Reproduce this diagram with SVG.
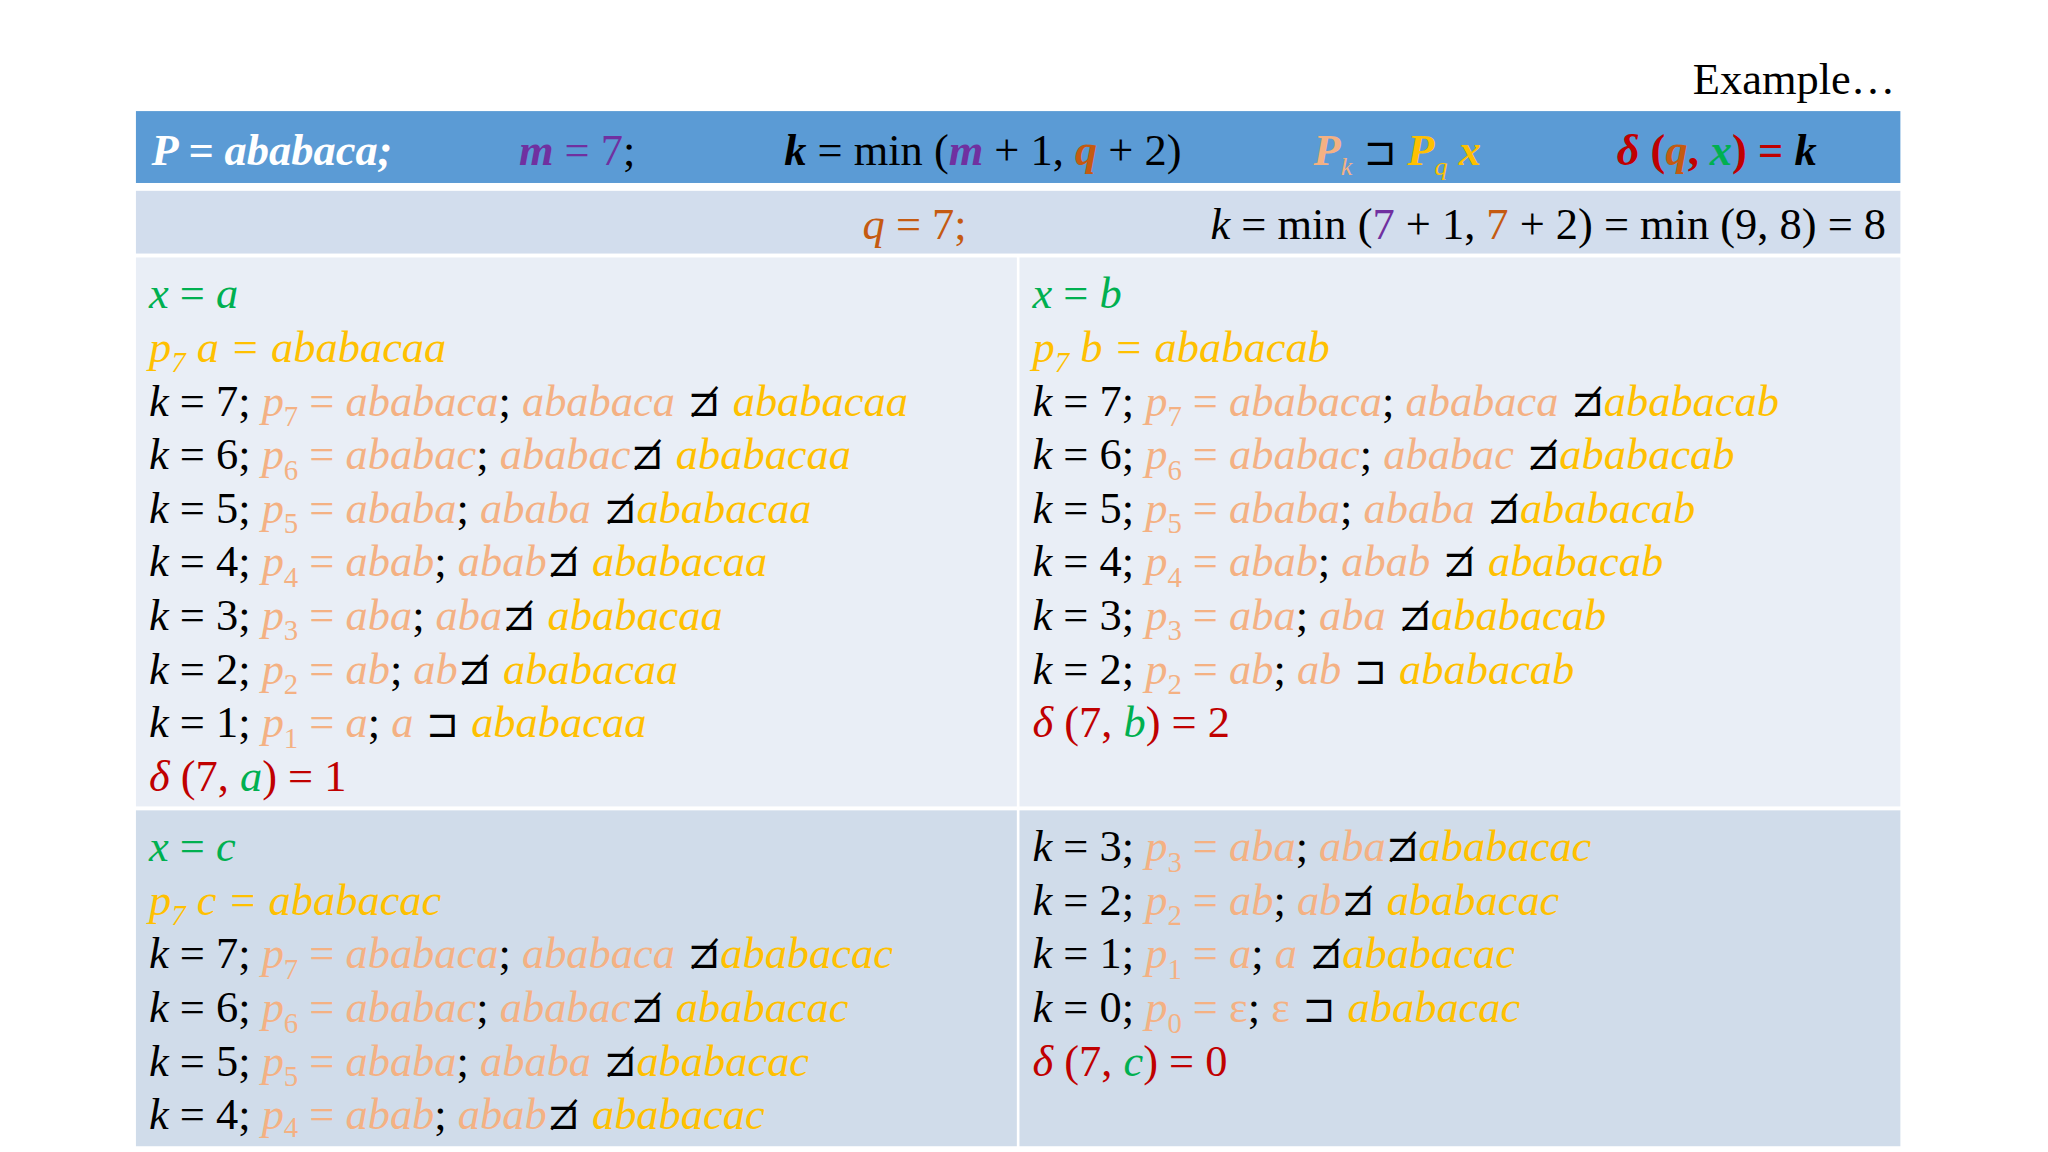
<svg xmlns="http://www.w3.org/2000/svg" width="2048" height="1152" viewBox="0 0 2048 1152">
<style>
.t{font-family:"Liberation Serif","Times New Roman",serif;font-size:34px;fill:#000}
.i{font-style:italic}
.bd{font-weight:bold}
.po{fill:#f4b183}.y{fill:#ffc000}.g{fill:#00b050}.r{fill:#c00000}.pu{fill:#7030a0}.o{fill:#c55a11}.w{fill:#fff}.k{fill:#000}
.s{font-family:"DejaVu Sans",sans-serif;font-size:30px;fill:#000}
</style>
<rect width="2048" height="1152" fill="#fff"/>
<g transform="scale(1.307)">
<g id="title"><text x="1450" y="72" class="t" font-size="50" text-anchor="end">Example…</text></g>
<g id="bg">
<rect x="104" y="85" width="1350" height="55" fill="#5b9bd5"/>
<rect x="104" y="146" width="1350" height="48" fill="#d2dded"/>
<rect x="104" y="197" width="674" height="420" fill="#e9eef6"/>
<rect x="780" y="197" width="674" height="420" fill="#e9eef6"/>
<rect x="104" y="620" width="674" height="257" fill="#d0dcea"/>
<rect x="780" y="620" width="674" height="257" fill="#d0dcea"/>
</g>
<g id="header">
<text x="116" y="126" class="t w i bd">P = ababaca;</text>
<text x="397" y="126" class="t"><tspan class="pu i bd">m</tspan><tspan class="pu"> = 7</tspan>;</text>
<text x="600" y="126" class="t"><tspan class="i bd">k</tspan> = min (<tspan class="pu i bd">m</tspan> + 1, <tspan class="o i bd">q</tspan> + 2)</text>
<text x="1005" y="126" class="t"><tspan class="po i bd">P</tspan><tspan class="po i" font-size="20" dy="8">k</tspan><tspan dy="-8" class="k"> </tspan><tspan class="s" font-size="32">⊐</tspan><tspan class="y i bd">  P</tspan><tspan class="y i" font-size="20" dy="8">q</tspan><tspan class="y i bd" dy="-8"> x</tspan></text>
<text x="1237" y="126" class="t bd"><tspan class="r i">δ</tspan><tspan class="r"> (</tspan><tspan class="o i">q</tspan><tspan class="r">, </tspan><tspan class="g i">x</tspan><tspan class="r">) = </tspan><tspan class="i">k</tspan></text>
</g>
<g id="row2">
<text x="660" y="183" class="t o"><tspan class="i">q</tspan> = 7;</text>
<text x="1443" y="183" class="t" text-anchor="end"><tspan class="i">k</tspan> = min (<tspan class="pu">7</tspan> + 1, <tspan class="o">7</tspan> + 2) = min (9, 8) = 8</text>
</g>
<g id="cellA">
<text x="114" y="236" class="t g"><tspan class="i">x</tspan> = <tspan class="i">a</tspan></text>
<text x="114" y="277" class="t y i">p<tspan font-size="22" dy="8">7</tspan><tspan dy="-8"> a = ababacaa</tspan></text>
<text x="114" y="318" class="t"><tspan class="i">k</tspan> = 7; <tspan class="po i">p</tspan><tspan class="po" font-size="22" dy="8">7</tspan><tspan class="po" dy="-8"> = </tspan><tspan class="po i">ababaca</tspan>; <tspan class="po i">ababaca</tspan><tspan class="s"> ⊐̸ </tspan><tspan class="y i">ababacaa</tspan></text>
<text x="114" y="359" class="t"><tspan class="i">k</tspan> = 6; <tspan class="po i">p</tspan><tspan class="po" font-size="22" dy="8">6</tspan><tspan class="po" dy="-8"> = </tspan><tspan class="po i">ababac</tspan>; <tspan class="po i">ababac</tspan><tspan class="s">⊐̸ </tspan><tspan class="y i">ababacaa</tspan></text>
<text x="114" y="400" class="t"><tspan class="i">k</tspan> = 5; <tspan class="po i">p</tspan><tspan class="po" font-size="22" dy="8">5</tspan><tspan class="po" dy="-8"> = </tspan><tspan class="po i">ababa</tspan>; <tspan class="po i">ababa</tspan><tspan class="s"> ⊐̸</tspan><tspan class="y i">ababacaa</tspan></text>
<text x="114" y="441" class="t"><tspan class="i">k</tspan> = 4; <tspan class="po i">p</tspan><tspan class="po" font-size="22" dy="8">4</tspan><tspan class="po" dy="-8"> = </tspan><tspan class="po i">abab</tspan>; <tspan class="po i">abab</tspan><tspan class="s">⊐̸ </tspan><tspan class="y i">ababacaa</tspan></text>
<text x="114" y="482" class="t"><tspan class="i">k</tspan> = 3; <tspan class="po i">p</tspan><tspan class="po" font-size="22" dy="8">3</tspan><tspan class="po" dy="-8"> = </tspan><tspan class="po i">aba</tspan>; <tspan class="po i">aba</tspan><tspan class="s">⊐̸ </tspan><tspan class="y i">ababacaa</tspan></text>
<text x="114" y="523" class="t"><tspan class="i">k</tspan> = 2; <tspan class="po i">p</tspan><tspan class="po" font-size="22" dy="8">2</tspan><tspan class="po" dy="-8"> = </tspan><tspan class="po i">ab</tspan>; <tspan class="po i">ab</tspan><tspan class="s">⊐̸ </tspan><tspan class="y i">ababacaa</tspan></text>
<text x="114" y="564" class="t"><tspan class="i">k</tspan> = 1; <tspan class="po i">p</tspan><tspan class="po" font-size="22" dy="8">1</tspan><tspan class="po" dy="-8"> = </tspan><tspan class="po i">a</tspan>; <tspan class="po i">a</tspan><tspan class="s"> ⊐ </tspan><tspan class="y i">ababacaa</tspan></text>
<text x="114" y="605" class="t r"><tspan class="i">δ</tspan> (7, <tspan class="g i">a</tspan>) = 1</text>
</g>
<g id="cellB">
<text x="790" y="236" class="t g"><tspan class="i">x</tspan> = <tspan class="i">b</tspan></text>
<text x="790" y="277" class="t y i">p<tspan font-size="22" dy="8">7</tspan><tspan dy="-8"> b = ababacab</tspan></text>
<text x="790" y="318" class="t"><tspan class="i">k</tspan> = 7; <tspan class="po i">p</tspan><tspan class="po" font-size="22" dy="8">7</tspan><tspan class="po" dy="-8"> = </tspan><tspan class="po i">ababaca</tspan>; <tspan class="po i">ababaca</tspan><tspan class="s"> ⊐̸</tspan><tspan class="y i">ababacab</tspan></text>
<text x="790" y="359" class="t"><tspan class="i">k</tspan> = 6; <tspan class="po i">p</tspan><tspan class="po" font-size="22" dy="8">6</tspan><tspan class="po" dy="-8"> = </tspan><tspan class="po i">ababac</tspan>; <tspan class="po i">ababac</tspan><tspan class="s"> ⊐̸</tspan><tspan class="y i">ababacab</tspan></text>
<text x="790" y="400" class="t"><tspan class="i">k</tspan> = 5; <tspan class="po i">p</tspan><tspan class="po" font-size="22" dy="8">5</tspan><tspan class="po" dy="-8"> = </tspan><tspan class="po i">ababa</tspan>; <tspan class="po i">ababa</tspan><tspan class="s"> ⊐̸</tspan><tspan class="y i">ababacab</tspan></text>
<text x="790" y="441" class="t"><tspan class="i">k</tspan> = 4; <tspan class="po i">p</tspan><tspan class="po" font-size="22" dy="8">4</tspan><tspan class="po" dy="-8"> = </tspan><tspan class="po i">abab</tspan>; <tspan class="po i">abab</tspan><tspan class="s"> ⊐̸ </tspan><tspan class="y i">ababacab</tspan></text>
<text x="790" y="482" class="t"><tspan class="i">k</tspan> = 3; <tspan class="po i">p</tspan><tspan class="po" font-size="22" dy="8">3</tspan><tspan class="po" dy="-8"> = </tspan><tspan class="po i">aba</tspan>; <tspan class="po i">aba</tspan><tspan class="s"> ⊐̸</tspan><tspan class="y i">ababacab</tspan></text>
<text x="790" y="523" class="t"><tspan class="i">k</tspan> = 2; <tspan class="po i">p</tspan><tspan class="po" font-size="22" dy="8">2</tspan><tspan class="po" dy="-8"> = </tspan><tspan class="po i">ab</tspan>; <tspan class="po i">ab</tspan><tspan class="s"> ⊐ </tspan><tspan class="y i">ababacab</tspan></text>
<text x="790" y="564" class="t r"><tspan class="i">δ</tspan> (7, <tspan class="g i">b</tspan>) = 2</text>
</g>
<g id="cellC">
<text x="114" y="659" class="t g"><tspan class="i">x</tspan> = <tspan class="i">c</tspan></text>
<text x="114" y="700" class="t y i">p<tspan font-size="22" dy="8">7</tspan><tspan dy="-8"> c = ababacac</tspan></text>
<text x="114" y="741" class="t"><tspan class="i">k</tspan> = 7; <tspan class="po i">p</tspan><tspan class="po" font-size="22" dy="8">7</tspan><tspan class="po" dy="-8"> = </tspan><tspan class="po i">ababaca</tspan>; <tspan class="po i">ababaca</tspan><tspan class="s"> ⊐̸</tspan><tspan class="y i">ababacac</tspan></text>
<text x="114" y="782" class="t"><tspan class="i">k</tspan> = 6; <tspan class="po i">p</tspan><tspan class="po" font-size="22" dy="8">6</tspan><tspan class="po" dy="-8"> = </tspan><tspan class="po i">ababac</tspan>; <tspan class="po i">ababac</tspan><tspan class="s">⊐̸ </tspan><tspan class="y i">ababacac</tspan></text>
<text x="114" y="823" class="t"><tspan class="i">k</tspan> = 5; <tspan class="po i">p</tspan><tspan class="po" font-size="22" dy="8">5</tspan><tspan class="po" dy="-8"> = </tspan><tspan class="po i">ababa</tspan>; <tspan class="po i">ababa</tspan><tspan class="s"> ⊐̸</tspan><tspan class="y i">ababacac</tspan></text>
<text x="114" y="864" class="t"><tspan class="i">k</tspan> = 4; <tspan class="po i">p</tspan><tspan class="po" font-size="22" dy="6">4</tspan><tspan class="po" dy="-6"> = </tspan><tspan class="po i">abab</tspan>; <tspan class="po i">abab</tspan><tspan class="s">⊐̸ </tspan><tspan class="y i">ababacac</tspan></text>
</g>
<g id="cellD">
<text x="790" y="659" class="t"><tspan class="i">k</tspan> = 3; <tspan class="po i">p</tspan><tspan class="po" font-size="22" dy="8">3</tspan><tspan class="po" dy="-8"> = </tspan><tspan class="po i">aba</tspan>; <tspan class="po i">aba</tspan><tspan class="s">⊐̸</tspan><tspan class="y i">ababacac</tspan></text>
<text x="790" y="700" class="t"><tspan class="i">k</tspan> = 2; <tspan class="po i">p</tspan><tspan class="po" font-size="22" dy="8">2</tspan><tspan class="po" dy="-8"> = </tspan><tspan class="po i">ab</tspan>; <tspan class="po i">ab</tspan><tspan class="s">⊐̸ </tspan><tspan class="y i">ababacac</tspan></text>
<text x="790" y="741" class="t"><tspan class="i">k</tspan> = 1; <tspan class="po i">p</tspan><tspan class="po" font-size="22" dy="8">1</tspan><tspan class="po" dy="-8"> = </tspan><tspan class="po i">a</tspan>; <tspan class="po i">a</tspan><tspan class="s"> ⊐̸</tspan><tspan class="y i">ababacac</tspan></text>
<text x="790" y="782" class="t"><tspan class="i">k</tspan> = 0; <tspan class="po i">p</tspan><tspan class="po" font-size="22" dy="8">0</tspan><tspan class="po" dy="-8"> = ε</tspan>; <tspan class="po">ε</tspan><tspan class="s"> ⊐ </tspan><tspan class="y i">ababacac</tspan></text>
<text x="790" y="823" class="t r"><tspan class="i">δ</tspan> (7, <tspan class="g i">c</tspan>) = 0</text>
</g>
<g id="connectors"/>
</g>
</svg>
